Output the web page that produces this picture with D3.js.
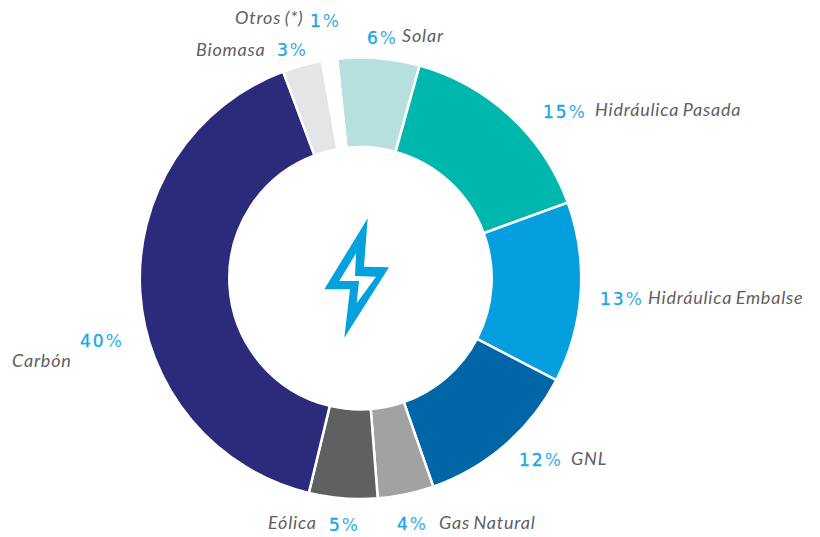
<!DOCTYPE html>
<html><head><meta charset="utf-8"><script src="https://cdn.jsdelivr.net/npm/d3@7"></script>
<style>html,body{margin:0;background:#fff}svg{display:block}
.n{font-family:"DejaVu Sans",sans-serif;font-size:17px;fill:#1aa7e2;letter-spacing:2px}
.n .p{font-weight:400;opacity:.9}.n .d{font-weight:400;stroke:#1aa7e2;stroke-width:.35px}
.l{font-family:"Lato",sans-serif;font-style:italic;font-size:18px;fill:#5f6062;letter-spacing:.8px;word-spacing:-1.5px}</style></head><body>
<svg id="c" width="820" height="537"></svg>
<script>
const categories=["Solar","Hidráulica Pasada","Hidráulica Embalse","GNL","Gas Natural","Eólica","Carbón","Biomasa","Otros (*)"];
const values=[6.0,15.1,13.2,12.0,4.1,5.0,40.5,2.9,1.1];
const shown=[6,15,13,12,4,5,40,3,1];
const colors=["#b6e0dd","#00b7ad","#059fdf","#0066a8","#a2a2a2","#5f6062","#2b2a7b","#e4e5e7","#ffffff"];
const numPos=[[367,44],[543,118],[600,305],[519,466],[397,530],[329,531],[80,347],[277,56],[310,27]];
const labPos=[[402,42],[595,116],[648,304],[571,465],[439,529],[268,529],[12,367],[196,56],[235,24]];
const svg=d3.select("#c"),g=svg.append("g").attr("transform","translate(360.5,278.3)");
const start=-6.1*Math.PI/180;
const pie=d3.pie().sort(null).value(d=>d).startAngle(start).endAngle(start+2*Math.PI);
const arc=d3.arc().innerRadius(131.2).outerRadius(220.7);
g.selectAll("path").data(pie(values)).join("path").attr("d",arc).attr("fill",(d,i)=>colors[i]).attr("stroke","#fff").attr("stroke-width",2.5);
svg.append("path").attr("fill","#05a0de").attr("fill-rule","evenodd")
 .attr("d","M367.7 218.3L364 266.7L389 267.3L344.3 337.7L350 289.3L324.3 289.3ZM356 253.3L339.3 281L359 281L356.7 303.3L376 276.7L355 276Z");
categories.forEach((c,i)=>{
 const t=svg.append("text").attr("class","n").attr("x",numPos[i][0]).attr("y",numPos[i][1]);
 t.append("tspan").attr("class","d").text(shown[i]);
 t.append("tspan").attr("class","p").text("%");
 svg.append("text").attr("class","l").attr("x",labPos[i][0]).attr("y",labPos[i][1]).text(c);
});
</script></body></html>
